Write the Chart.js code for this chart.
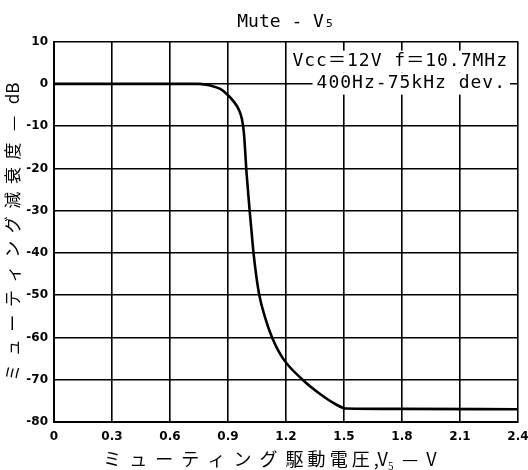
<!DOCTYPE html>
<html>
<head>
<meta charset="utf-8">
<script src="https://cdn.jsdelivr.net/npm/chart.js@4"></script>
<style>
  html, body { margin: 0; padding: 0; background: #fff; }
  #wrap { width: 528px; height: 470px; }
</style>
</head>
<body>
<div id="wrap"><canvas id="muteChart" width="528" height="470"></canvas></div>
<script>
//data
var drive_voltage = [0, 0.75, 0.81, 0.86, 0.896, 0.93, 0.956, 0.972, 0.982, 0.989, 0.995, 1.003, 1.012, 1.022, 1.032, 1.045, 1.062, 1.09, 1.128, 1.185, 1.286, 1.371, 1.457, 1.51, 1.8, 2.4];
var attenuation_db = [0, 0, -0.4, -1.2, -2.5, -4.2, -6.1, -8.3, -11.5, -16, -20.5, -25, -30, -35, -40, -45, -50, -55, -60, -65, -70, -73.2, -75.8, -76.8, -76.9, -77];
var x_ticks = [0, 0.3, 0.6, 0.9, 1.2, 1.5, 1.8, 2.1, 2.4];
var x_tick_labels = ["0", "0.3", "0.6", "0.9", "1.2", "1.5", "1.8", "2.1", "2.4"];
var y_ticks = [10, 0, -10, -20, -30, -40, -50, -60, -70, -80];
var note_lines = ["Vcc＝12V f＝10.7MHz", "400Hz-75kHz dev."];

var points = drive_voltage.map(function (v, i) { return { x: v, y: attenuation_db[i] }; });

//conditions printed in the upper right
var notePlugin = {
    id: "notes",
    afterDatasetsDraw: function (chart) {
        var ctx = chart.ctx, area = chart.chartArea;
        ctx.save();
        ctx.font = "18px 'DejaVu Sans Mono', 'Noto Sans CJK JP'";
        ctx.letterSpacing = "1px";
        ctx.textAlign = "right";
        ctx.textBaseline = "middle";
        var rights = [area.right - 10, area.right - 12];
        var ys = [area.top + 20, area.top + 42];
        note_lines.forEach(function (txt, i) {
            var w = ctx.measureText(txt).width;
            ctx.fillStyle = "#fff";
            ctx.fillRect(rights[i] - w - 4, ys[i] - 11, w + 8, 22);
            ctx.fillStyle = "#000";
            ctx.fillText(txt, rights[i], ys[i]);
        });
        ctx.restore();
    }
};

var chart = new Chart(document.getElementById("muteChart").getContext("2d"), {
    type: "line",
    data: {
        datasets: [{
            data: points,
            borderColor: "#000",
            borderWidth: 2.6,
            pointRadius: 0,
            fill: false,
            cubicInterpolationMode: "monotone"
        }]
    },
    options: {
        responsive: false,
        animation: false,
        layout: { padding: { left: 0, right: 0, top: 0, bottom: 0 } },
        plugins: {
            legend: { display: false },
            tooltip: { enabled: false },
            title: {
                display: true,
                text: "Mute - V\u2085",
                color: "#000",
                fullSize: false,
                font: { family: "'DejaVu Sans Mono'", size: 18, weight: "normal" },
                padding: { top: 12, bottom: 8 }
            }
        },
        scales: {
            x: {
                type: "linear",
                min: 0,
                max: 2.4,
                afterBuildTicks: function (axis) {
                    axis.ticks = x_ticks.map(function (v) { return { value: v }; });
                },
                afterFit: function (axis) {
                    axis.height = 48;
                    axis.paddingLeft = 0;
                    axis.paddingRight = 10;
                },
                ticks: {
                    color: "#000",
                    font: { family: "'DejaVu Sans'", size: 12, weight: "bold" },
                    padding: 8,
                    maxRotation: 0,
                    autoSkip: false,
                    callback: function (value, index) { return x_tick_labels[index]; }
                },
                grid: { color: "#000", lineWidth: 1.6, drawTicks: false },
                border: { color: "#000", width: 2 },
                title: {
                    display: true,
                    text: "ミ  ュ  ー  テ  ィ  ン  グ  駆 動 電 圧 ,V₅  —  V        ",
                    color: "#000",
                    font: { family: "'Noto Sans CJK JP'", size: 18 },
                    padding: { top: 0, bottom: 0 }
                }
            },
            y: {
                type: "linear",
                min: -80,
                max: 10,
                afterBuildTicks: function (axis) {
                    axis.ticks = y_ticks.map(function (v) { return { value: v }; });
                },
                afterFit: function (axis) { axis.width = 54; },
                ticks: {
                    color: "#000",
                    font: { family: "'DejaVu Sans'", size: 12, weight: "bold" },
                    padding: 6,
                    autoSkip: false
                },
                grid: { color: "#000", lineWidth: 1.6, drawTicks: false },
                border: { color: "#000", width: 2 },
                title: {
                    display: true,
                    text: "ミ  ュ  ー  テ  ィ  ン  グ  減  衰  度   —   dB",
                    color: "#000",
                    font: { family: "'Noto Sans CJK JP'", size: 17 },
                    padding: { top: 2, bottom: 0 }
                }
            }
        }
    },
    plugins: [notePlugin]
});
</script>
</body>
</html>
